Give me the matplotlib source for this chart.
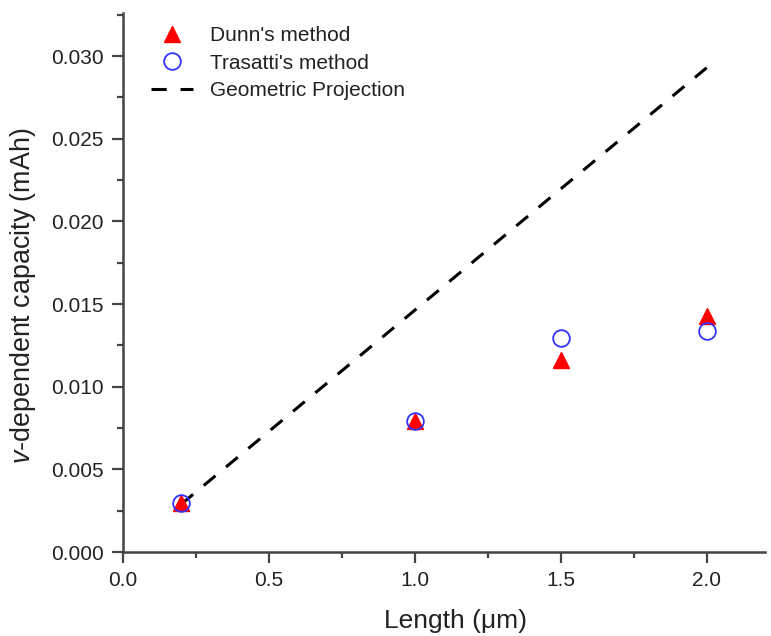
import matplotlib.pyplot as plt
from matplotlib.ticker import MultipleLocator

plt.rcParams['font.family'] = ['Liberation Sans', 'DejaVu Sans']
plt.rcParams['mathtext.fontset'] = 'custom'
plt.rcParams['mathtext.rm'] = 'Liberation Sans'
plt.rcParams['mathtext.it'] = 'Liberation Sans:italic'

length = [0.2, 1.0, 1.5, 2.0]
dunn = [0.00296, 0.00792, 0.0116, 0.01427]
trasatti = [0.00296, 0.00792, 0.01296, 0.01338]
geo_x = [0.2, 2.0]
geo_y = [0.0029, 0.0293]

fig = plt.figure(figsize=(7.71, 6.36), dpi=100)
ax = fig.add_axes([0.1595, 0.132, 0.833, 0.8475])

ax.plot(length, dunn, '^', color='red', markersize=12, label="Dunn's method", zorder=3)
ax.plot(length, trasatti, 'o', mfc='none', mec='#3333ff', mew=1.3, markersize=12,
        label="Trasatti's method", zorder=4)
ax.plot(geo_x, geo_y, '--', color='black', lw=2.2, dashes=(5, 4.5), label='Geometric Projection', zorder=2)

ax.set_xlim(0, 2.2)
ax.set_ylim(0, 0.0326)
ax.xaxis.set_major_locator(MultipleLocator(0.5))
ax.xaxis.set_minor_locator(MultipleLocator(0.25))
ax.yaxis.set_major_locator(MultipleLocator(0.005))
ax.yaxis.set_minor_locator(MultipleLocator(0.0025))
ax.xaxis.set_major_formatter(plt.FormatStrFormatter('%.1f'))
ax.yaxis.set_major_formatter(plt.FormatStrFormatter('%.3f'))

for s in ['top', 'right']:
    ax.spines[s].set_visible(False)
for s in ['left', 'bottom']:
    ax.spines[s].set_linewidth(1.8)
    ax.spines[s].set_color('#444444')
ax.tick_params(which='major', direction='out', length=8, width=1.6, color='#444444',
               labelsize=15, labelcolor='#222222', pad=6)
ax.tick_params(which='minor', direction='out', length=4, width=1.6, color='#444444')

ax.set_xlabel(u'Length (\u03bcm)', fontsize=19, color='#222222')
ax.set_ylabel(r'$\mathit{v}$-dependent capacity (mAh)', fontsize=19.4, color='#222222')
ax.xaxis.set_label_coords(0.517, -0.106)
ax.yaxis.set_label_coords(-0.133, 0.475)

ax.legend(loc='upper left', bbox_to_anchor=(0.015, 1.011), frameon=False, fontsize=15,
          handlelength=2.0, handletextpad=0.8, labelspacing=0.42, numpoints=1,
          labelcolor='#222222')

fig.savefig('out.png', dpi=100)
